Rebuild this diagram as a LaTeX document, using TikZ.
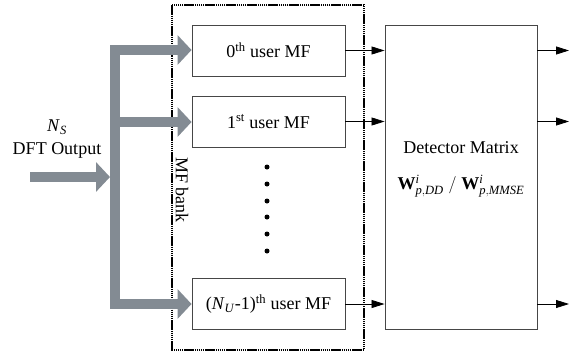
\documentclass[tikz,border=0pt]{standalone}
\usepackage{fontspec}
\setmainfont{Liberation Serif}
\setmathrm{Liberation Serif}
\setboldmathrm{Liberation Serif Bold}
\usetikzlibrary{arrows.meta}
\definecolor{bus}{RGB}{131,139,147}
\definecolor{edge}{RGB}{70,70,70}
\tikzset{
  box/.style={draw=edge, line width=0.9pt, minimum width=153pt, minimum height=51pt, inner sep=0pt, font=\fontsize{18}{21}\selectfont},
  busline/.style={draw=bus, line width=10pt},
  busarrow/.style={busline, -{Triangle[length=14pt,width=29pt]}},
  sig/.style={draw=black, line width=0.8pt, -{Triangle[length=13pt,width=8pt]}},
  bankbox/.style={draw=black, line width=2.2pt, dash pattern=on 1.5pt off 0.6pt},
  lbl/.style={font=\fontsize{18}{21}\selectfont, inner sep=0pt},
  dot/.style={circle, fill=black, inner sep=0pt, minimum size=5pt}
}
\begin{document}
\begin{tikzpicture}[x=1pt,y=-1pt]
\useasboundingbox (0,0) rectangle (569,356);
% MF bank
\draw[bankbox] (172,5) rectangle (364,350);
\node[lbl, rotate=-90] (bank) at (182,190) {MF bank};
% MF boxes
\node[box] (mf0) at (268.5,50.5) {0\textsuperscript{th} user MF};
\node[box] (mf1) at (268.5,121.5) {1\textsuperscript{st} user MF};
\node[box] (mfN) at (268.5,304) {(\textit{N}\textsubscript{\textit{U}}-1)\textsuperscript{th} user MF};
% dots
\foreach \i/\yy in {1/167,2/184,3/201,4/217,5/234,6/251}
  \node[dot] (d\i) at (267,\yy) {};
% Detector
\node[box, minimum width=152pt, minimum height=304pt] (det) at (461,177) {};
\node[lbl] (dettxt) at (461,148) {Detector Matrix};
\node[lbl] (detform) at (461,186) {$\mathbf{W}^{\mathit{i}}_{\mathit{p,DD}}\;\mathrm{/}\;\mathbf{W}^{\mathit{i}}_{\mathit{p,MMSE}}$};
% input
\node[lbl, align=center] (in) at (57,139) {\textit{N}\textsubscript{\textit{S}}\\[2pt]DFT Output};
\coordinate (src) at (30,177);
\coordinate (bustop) at (115,45);
\coordinate (busbot) at (115,309);
\coordinate (b0) at (110,50);
\coordinate (b1) at (110,122);
\coordinate (bN) at (110,304);
\coordinate (join) at (110,177);
% bus
\draw[busline] (bustop) -- (busbot);
\draw[busarrow] (b0) -- (mf0.west |- b0);
\draw[busarrow] (b1) -- (mf1.west |- b1);
\draw[busarrow] (bN) -- (mfN.west |- bN);
\draw[busarrow] (src) -- (join);
% signals
\draw[sig] (mf0.east) -- (det.west |- mf0.east);
\draw[sig] (mf1.east) -- (det.west |- mf1.east);
\draw[sig] (mfN.east) -- (det.west |- mfN.east);
\coordinate (o0) at (569,50.5);
\coordinate (o1) at (569,121.5);
\coordinate (oN) at (569,304);
\draw[sig] (det.east |- o0) -- (o0);
\draw[sig] (det.east |- o1) -- (o1);
\draw[sig] (det.east |- oN) -- (oN);
\end{tikzpicture}
\end{document}
